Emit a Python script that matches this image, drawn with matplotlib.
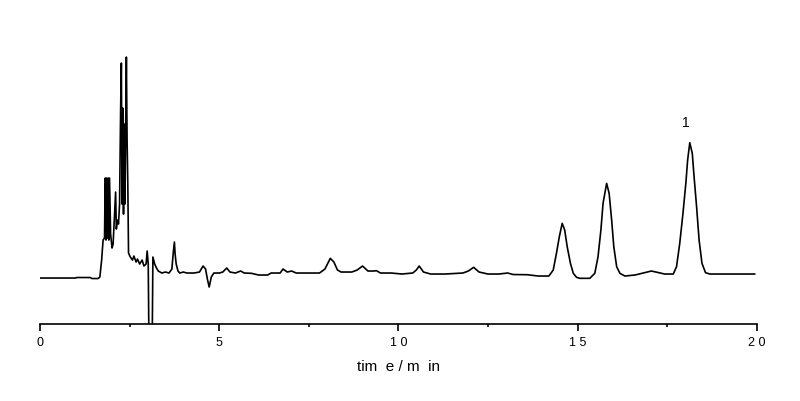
import matplotlib
matplotlib.use("Agg")
import matplotlib.pyplot as plt
from matplotlib.ticker import MultipleLocator

# retention time (min) and detector signal (a.u.)
time_min = [
    0.00, 1.00, 1.02, 1.40, 1.45, 1.62, 1.67, 1.72, 1.76, 1.80,
    1.82, 1.84, 1.86, 1.88, 1.90, 1.92, 1.94, 1.97, 2.01, 2.04,
    2.08, 2.11, 2.13, 2.16, 2.19, 2.22, 2.25, 2.27, 2.29, 2.31,
    2.33, 2.35, 2.37, 2.39, 2.41, 2.43, 2.45, 2.47, 2.52, 2.58,
    2.62, 2.68, 2.72, 2.78, 2.85, 2.90, 2.96, 2.99, 3.02, 3.04,
    3.13, 3.15, 3.20, 3.25, 3.30, 3.40, 3.50, 3.60, 3.68, 3.72,
    3.75, 3.77, 3.80, 3.85, 3.90, 4.00, 4.10, 4.30, 4.45, 4.55,
    4.62, 4.67, 4.72, 4.78, 4.85, 5.00, 5.10, 5.21, 5.30, 5.45,
    5.60, 5.70, 5.90, 6.10, 6.35, 6.45, 6.70, 6.78, 6.90, 7.02,
    7.15, 7.50, 7.80, 7.95, 8.10, 8.20, 8.30, 8.40, 8.70, 8.85,
    9.00, 9.15, 9.30, 9.39, 9.50, 9.80, 10.10, 10.40, 10.50, 10.58,
    10.70, 10.90, 11.30, 11.80, 11.95, 12.10, 12.25, 12.50, 12.80, 13.05,
    13.20, 13.60, 13.90, 14.20, 14.32, 14.41, 14.49, 14.57, 14.64, 14.71,
    14.80, 14.88, 14.97, 15.06, 15.34, 15.48, 15.57, 15.65, 15.71, 15.81,
    15.88, 15.95, 16.01, 16.09, 16.18, 16.32, 16.60, 17.06, 17.43, 17.67,
    17.76, 17.85, 17.94, 18.02, 18.07, 18.13, 18.20, 18.25, 18.32, 18.39,
    18.47, 18.57, 18.69, 19.94,
]
signal = [
    46, 46, 46.5, 46.5, 45.5, 45.5, 47, 64, 84, 86,
    146, 84, 146, 86, 146, 84, 146, 90, 76, 80,
    110, 132, 95, 104, 100, 120, 216, 261, 120, 216,
    110, 200, 120, 190, 267, 184, 140, 71, 67, 64,
    68, 62, 65, 60, 64, 58, 60, 73, 60, -20,
    -20, 67, 60, 56, 53, 51, 52, 51, 55, 72,
    82, 70, 60, 53, 51, 52, 51, 51, 52, 58,
    55, 45, 37, 47, 51, 51, 52, 56, 52, 51,
    53, 51, 50.7, 49, 49, 51, 51, 55, 52, 53,
    51, 51, 51, 55, 65.7, 62, 54, 52, 52, 54,
    58, 53, 53, 53.3, 51, 51, 50, 51, 54, 58,
    52, 50, 50, 51, 53, 56.7, 52, 50, 50, 51,
    49.5, 49.3, 48, 48, 54, 70.7, 87.3, 100.7, 94, 77.3,
    60.7, 50.7, 46.7, 45.7, 45.7, 50.7, 67.3, 94, 120.7, 140.7,
    130.7, 104, 77.3, 57.3, 50.7, 48, 49, 53, 50, 50,
    57.3, 80.7, 110.7, 140.7, 164, 181.3, 170.7, 147.3, 117.3, 84,
    60.7, 51.3, 50, 50,
]

peak_label = "1"
peak_label_pos = (18.01, 200.7)

x_ticks = [0, 5, 10, 15, 20]
x_tick_labels = ["0", "5", "1 0", "1 5", "2 0"]

plt.rcParams['font.family'] = ['Liberation Sans', 'DejaVu Sans']

fig = plt.figure(figsize=(8.0, 4.01), dpi=100)
ax = fig.add_axes([0.05, 0.192, 0.896, 0.708])

ax.plot(time_min, signal, color='black', linewidth=1.2)
ax.text(peak_label_pos[0], peak_label_pos[1], peak_label,
        ha='center', va='center', fontsize=10)

ax.set_xlim(0, 20)
ax.set_ylim(0, 284)

for side in ['top', 'right', 'left']:
    ax.spines[side].set_visible(False)
ax.spines['bottom'].set_linewidth(1.2)
ax.set_yticks([])

ax.set_xticks(x_ticks)
ax.set_xticklabels(x_tick_labels)
ax.xaxis.set_minor_locator(MultipleLocator(2.5))
ax.tick_params(axis='x', which='major', direction='out', length=5, width=1.2,
               labelsize=9, pad=4)
ax.tick_params(axis='x', which='minor', direction='out', length=2.5, width=1.2)
ax.set_xlabel("tim  e / m  in", fontsize=11, labelpad=8)

fig.savefig("out.png", dpi=100)
